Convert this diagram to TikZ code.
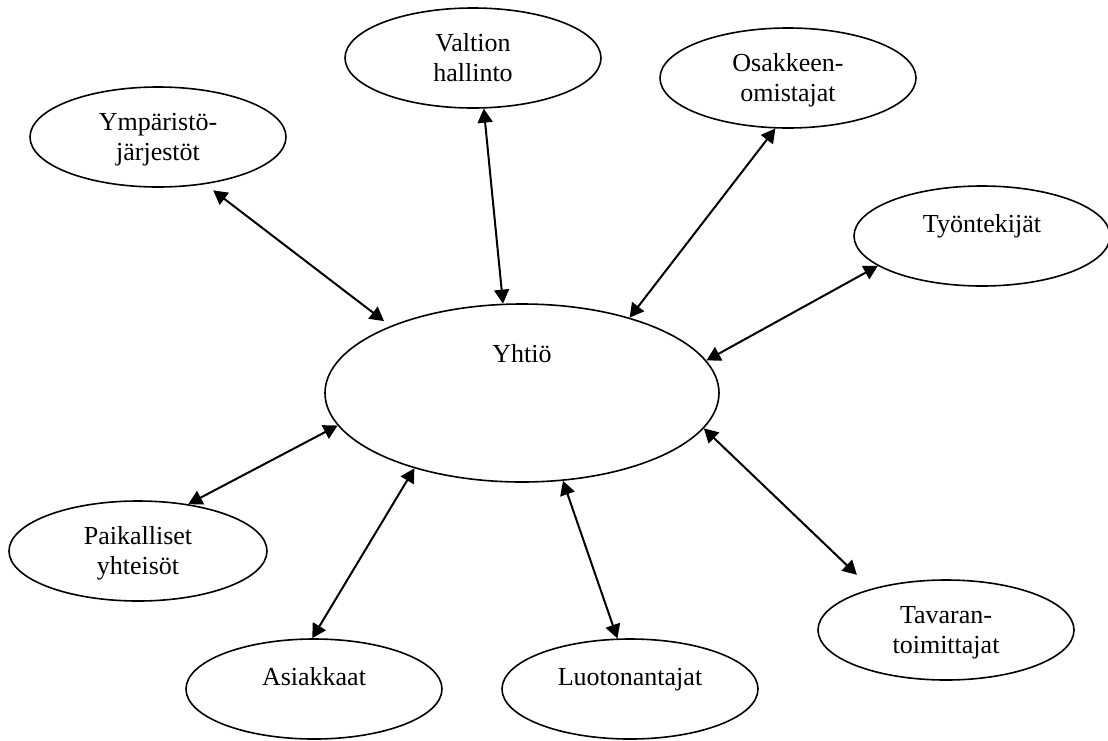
\documentclass[tikz,border=0pt]{standalone}
\usepackage{fontspec}
\setmainfont{Liberation Serif}
\usetikzlibrary{shapes.geometric,arrows.meta}

\begin{document}
\begin{tikzpicture}[x=0.5pt, y=-0.5pt, >={Triangle[length=7pt,width=7.5pt]},
  every node/.style={font=\fontsize{13}{15}\selectfont},
  party/.style={draw, ellipse, line width=0.8pt, minimum width=128pt, minimum height=50pt, inner sep=0pt, align=center, text height=8pt, text depth=12pt},
  twoline/.style={party, text height=23pt, text depth=-3pt},
  link/.style={<->, line width=1pt}]
\useasboundingbox (0,0) rectangle (1108,740);
\node[party, minimum width=197pt, minimum height=89pt, text depth=39pt] (yhtio) at (522,393) {Yhtiö};
\node[twoline] (valtio) at (473,58) {Valtion\\hallinto};
\node[twoline] (osakas) at (788,78) {Osakkeen-\\omistajat};
\node[twoline] (ymparisto) at (158,137) {Ympäristö-\\järjestöt};
\node[party] (tyontekija) at (982,236) {Työntekijät};
\node[twoline, minimum width=129pt] (paikallinen) at (138,551) {Paikalliset\\yhteisöt};
\node[party] (asiakas) at (314,689) {Asiakkaat};
\node[party] (luotottaja) at (630,689) {Luotonantajat};
\node[twoline] (toimittaja) at (946,630) {Tavaran-\\toimittajat};
\draw[link] (valtio.282) -- (yhtio.102.5);
\draw[link] (osakas.256.5) -- (yhtio.35.6);
\draw[link] (tyontekija.196) -- (yhtio.10.7);
\draw[link, shorten <=5pt, shorten >=4pt] (ymparisto.315.5) -- (yhtio.153);
\draw[link] (paikallinen.43) -- (yhtio.190);
\draw[link] (asiakas.92) -- (yhtio.215.5);
\draw[link] (luotottaja.104) -- (yhtio.295.6);
\draw[link, shorten <=10pt] (toimittaja.151) -- (yhtio.349.3);
\end{tikzpicture}
\end{document}
